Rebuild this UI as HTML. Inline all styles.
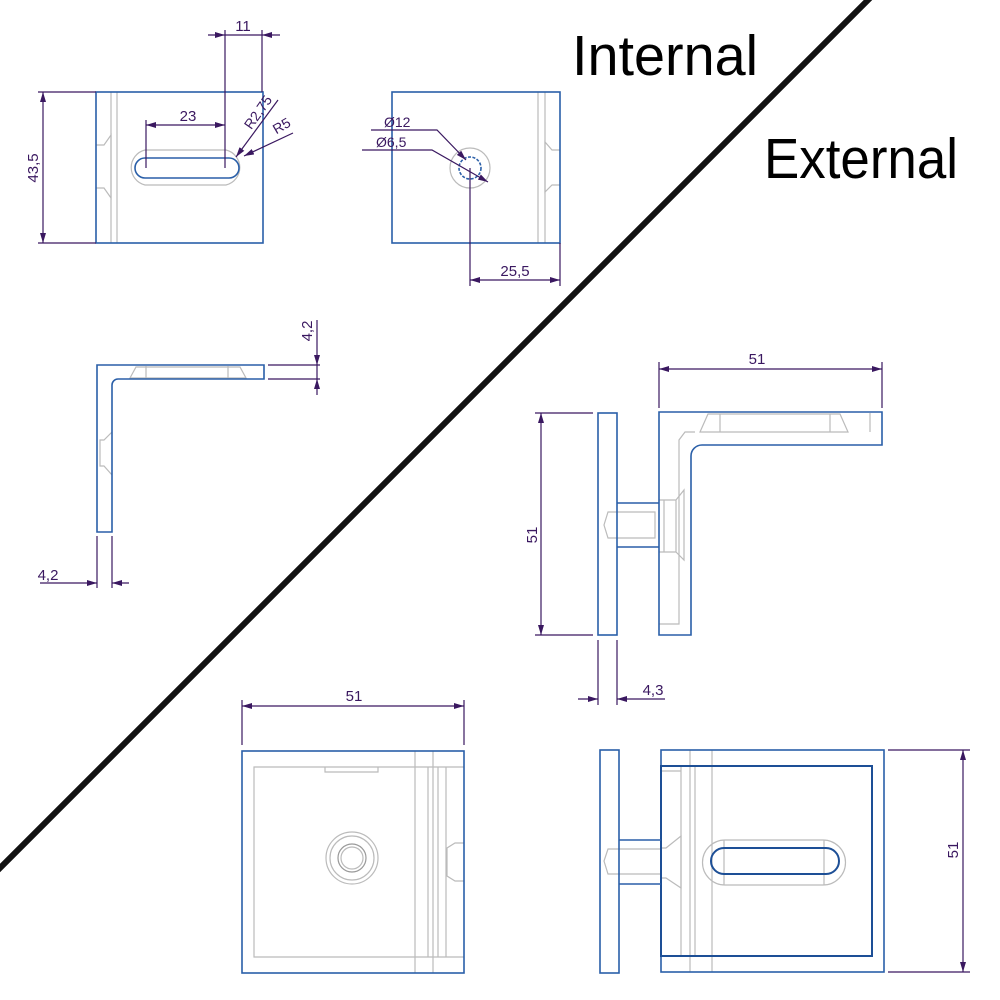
<!DOCTYPE html>
<html><head><meta charset="utf-8"><style>html,body{margin:0;padding:0;background:#fff}svg{display:block}</style></head>
<body>
<svg width="1000" height="1000" viewBox="0 0 1000 1000" xmlns="http://www.w3.org/2000/svg" font-family="Liberation Sans, sans-serif">
<defs>
<marker id="a" viewBox="0 0 10 6" refX="10" refY="3" markerWidth="10" markerHeight="6" orient="auto-start-reverse" markerUnits="userSpaceOnUse"><path d="M0,0L10,3L0,6z" fill="#3a1860"/></marker>
</defs>
<rect width="1000" height="1000" fill="#fff"/>
<line x1="870" y1="-2" x2="-2" y2="870" stroke="#111" stroke-width="6"/>
<text x="572" y="75" font-size="57" textLength="186" lengthAdjust="spacingAndGlyphs">Internal</text>
<text x="764" y="178" font-size="57" textLength="194" lengthAdjust="spacingAndGlyphs">External</text>

<g fill="none" stroke="#bbb" stroke-width="1.2">
<!-- top left -->
<line x1="111" y1="92" x2="111" y2="243"/><line x1="117" y1="92" x2="117" y2="243"/>
<path d="M96,145 L104,145 L111,135 L111,198 L104,188 L96,188"/>
<path d="M145,150 H226 A18,18 0 0 1 226,185 H145 A18,18 0 0 1 145,150 Z"/>
<!-- top mid -->
<line x1="538" y1="92" x2="538" y2="243"/><line x1="545" y1="92" x2="545" y2="243"/>
<path d="M560,150 L552,150 L545,142 L545,192 L552,185 L560,185"/>
<circle cx="470" cy="168" r="20"/>
<!-- mid left -->
<path d="M130,378 L136,367 L240,367 L246,378 Z"/><line x1="146" y1="366" x2="146" y2="379"/><line x1="228" y1="366" x2="228" y2="379"/>
<path d="M112,432 L104,440 L100,440 L100,466 L104,466 L112,475"/>
<!-- mid right -->
<path d="M700,432 L708,414 L840,414 L848,432 Z"/><line x1="720" y1="414" x2="720" y2="432"/><line x1="830" y1="414" x2="830" y2="432"/>
<line x1="870" y1="413" x2="870" y2="432"/>
<path d="M695,432 L685,432 L679,440 L679,624 L659,624"/>
<path d="M608,512 L655,512 L655,538 L608,538 L604,525 Z"/>
<path d="M659,500 L676,500 L676,552 L659,552 M664,500 L664,552 M676,500 L684,490 L684,560 L676,552"/>
<!-- bottom mid -->
<path d="M464,767 H254 V957 H464"/><path d="M325,767 V772 H378 V767"/>
<line x1="415" y1="751" x2="415" y2="973"/><line x1="433" y1="751" x2="433" y2="973"/>
<line x1="428" y1="767" x2="428" y2="957"/><line x1="438" y1="767" x2="438" y2="957"/><line x1="446" y1="767" x2="446" y2="957"/>
<path d="M464,843 L455,843 L447,848 L447,876 L455,881 L464,881"/>
<circle cx="352" cy="858" r="26"/><circle cx="352" cy="858" r="22"/><circle cx="352" cy="858" r="14" stroke="#999"/><circle cx="352" cy="858" r="11"/>
<!-- bottom right -->
<line x1="681" y1="767" x2="681" y2="956"/><line x1="690" y1="750" x2="690" y2="972"/><line x1="695" y1="767" x2="695" y2="956"/><line x1="712" y1="750" x2="712" y2="972"/>
<path d="M661,771 H681"/>
<path d="M608,849 L661,849 L661,874 L608,874 L604,861 Z"/>
<path d="M661,848 L666,848 L681,836 L681,888 L666,878 L661,878"/>
<path d="M725,840 H823 A22,22 0 0 1 823,885 H725 A22,22 0 0 1 725,840 Z"/>
<line x1="724" y1="840" x2="724" y2="885"/><line x1="824" y1="840" x2="824" y2="885"/>
</g>

<g fill="none" stroke="#2a5fa8" stroke-width="1.6">
<rect x="96" y="92" width="167" height="151"/>
<path d="M145,158 H229 A10,10 0 0 1 229,178 H145 A10,10 0 0 1 145,158 Z"/>
<rect x="392" y="92" width="168" height="151"/>
<circle cx="470" cy="168" r="11" stroke-dasharray="3,1.5"/>
<path d="M97,365 H264 V379 H118 A6,6 0 0 0 112,385 V532 H97 Z"/>
<rect x="598" y="413" width="19" height="222"/>
<path d="M659,412 H882 V445 H702 A11,11 0 0 0 691,456 V635 H659 Z"/>
<path d="M617,503 H659 M617,547 H659"/>
<rect x="242" y="751" width="222" height="222"/>
<rect x="600" y="750" width="19" height="223"/>
<rect x="661" y="750" width="223" height="222"/>
<rect x="661" y="766" width="211" height="190" stroke="#1d4f96" stroke-width="2"/>
<path d="M619,840 H661 M619,884 H661"/>
<path d="M724,848 H826 A13,13 0 0 1 826,874 H724 A13,13 0 0 1 724,848 Z" stroke="#1d4f96" stroke-width="2"/>
</g>

<g fill="none" stroke="#3a1860" stroke-width="1.2">
<!-- 43,5 -->
<path d="M38,92 H96 M38,243 H96"/><line x1="43" y1="92" x2="43" y2="243" marker-start="url(#a)" marker-end="url(#a)"/>
<!-- 11 -->
<path d="M225,30 V168 M262,30 V92"/>
<line x1="208" y1="35" x2="225" y2="35" marker-end="url(#a)"/><line x1="280" y1="35" x2="262" y2="35" marker-end="url(#a)"/><line x1="225" y1="35" x2="262" y2="35"/>
<!-- 23 -->
<path d="M146,120 V168"/><line x1="146" y1="125" x2="225" y2="125" marker-start="url(#a)" marker-end="url(#a)"/>
<!-- R leaders -->
<line x1="278" y1="100" x2="236" y2="157" marker-end="url(#a)"/>
<line x1="293" y1="133" x2="244" y2="156" marker-end="url(#a)"/>
<!-- diameters -->
<path d="M371,130 H437 L466,160" marker-end="url(#a)"/>
<path d="M362,150 H432 L488,182" marker-end="url(#a)"/>
<!-- 25,5 -->
<path d="M470,168 V286 M560,243 V286"/><line x1="470" y1="280" x2="560" y2="280" marker-start="url(#a)" marker-end="url(#a)"/>
<!-- 4,2 right -->
<path d="M268,365 H320 M268,379 H320"/>
<line x1="317" y1="320" x2="317" y2="365" marker-end="url(#a)"/><line x1="317" y1="395" x2="317" y2="379" marker-end="url(#a)"/><line x1="317" y1="365" x2="317" y2="379"/>
<!-- 4,2 bottom -->
<path d="M97,536 V588 M112,536 V588"/>
<line x1="40" y1="583" x2="97" y2="583" marker-end="url(#a)"/><line x1="129" y1="583" x2="112" y2="583" marker-end="url(#a)"/>
<!-- 51 mid right -->
<path d="M659,362 V408 M882,362 V408"/><line x1="659" y1="369" x2="882" y2="369" marker-start="url(#a)" marker-end="url(#a)"/>
<path d="M535,413 H593 M535,635 H593"/><line x1="541" y1="413" x2="541" y2="635" marker-start="url(#a)" marker-end="url(#a)"/>
<!-- 4,3 -->
<path d="M598,640 V705 M617,640 V705"/>
<line x1="578" y1="699" x2="598" y2="699" marker-end="url(#a)"/><line x1="665" y1="699" x2="617" y2="699" marker-end="url(#a)"/>
<!-- 51 bottom mid -->
<path d="M242,700 V745 M464,700 V745"/><line x1="242" y1="706" x2="464" y2="706" marker-start="url(#a)" marker-end="url(#a)"/>
<!-- 51 bottom right -->
<path d="M888,750 H970 M888,972 H970"/><line x1="963" y1="750" x2="963" y2="972" marker-start="url(#a)" marker-end="url(#a)"/>
</g>

<g fill="#3a1860" font-size="15">
<text x="243" y="31" text-anchor="middle">11</text>
<text x="188" y="121" text-anchor="middle">23</text>
<text transform="translate(38,168) rotate(-90)" text-anchor="middle">43,5</text>
<text transform="translate(262,115) rotate(-55)" text-anchor="middle" font-size="14">R2,75</text>
<text transform="translate(284,130) rotate(-30)" text-anchor="middle" font-size="14">R5</text>
<text x="384" y="127" font-size="14">Ø12</text>
<text x="376" y="147" font-size="14">Ø6,5</text>
<text x="515" y="276" text-anchor="middle">25,5</text>
<text transform="translate(312,331) rotate(-90)" text-anchor="middle">4,2</text>
<text x="48" y="580" text-anchor="middle">4,2</text>
<text x="757" y="364" text-anchor="middle">51</text>
<text transform="translate(537,535) rotate(-90)" text-anchor="middle">51</text>
<text x="653" y="695" text-anchor="middle">4,3</text>
<text x="354" y="701" text-anchor="middle">51</text>
<text transform="translate(958,850) rotate(-90)" text-anchor="middle">51</text>
</g>
</svg>
</body></html>
